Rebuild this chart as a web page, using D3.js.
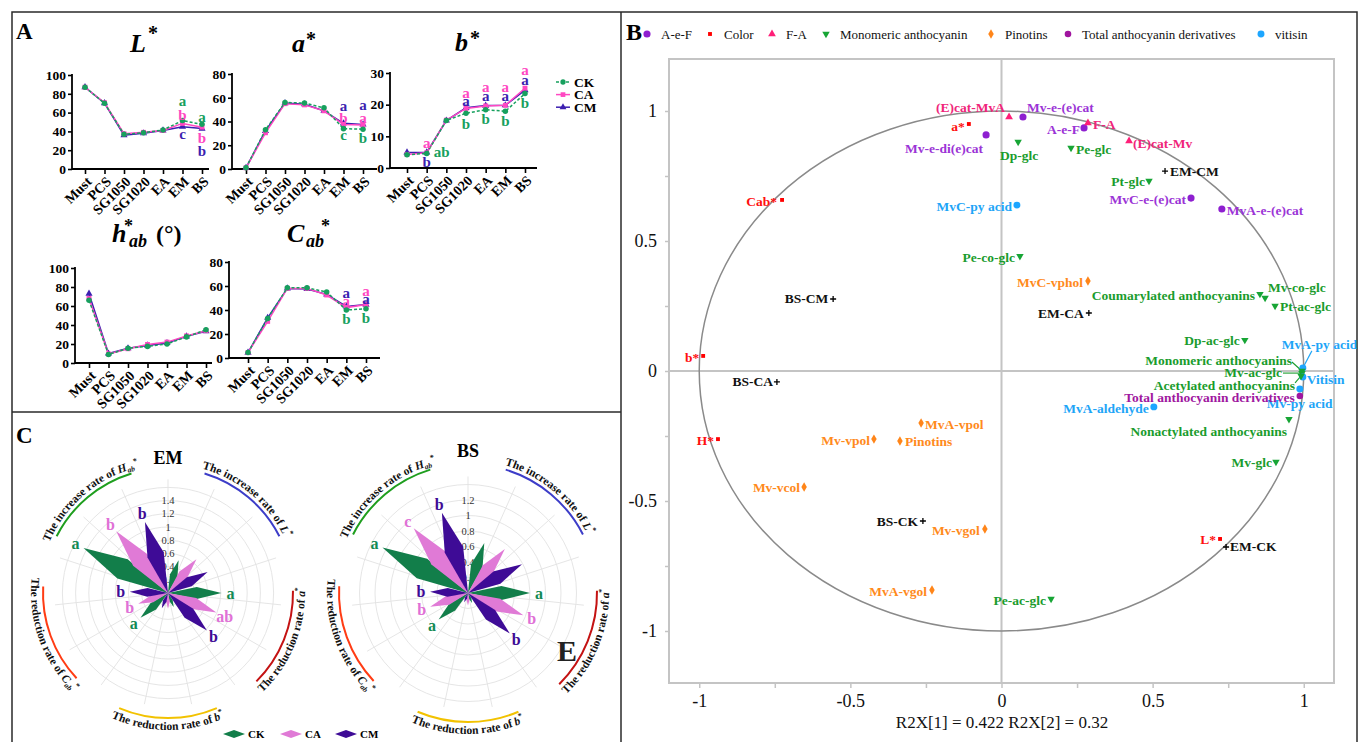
<!DOCTYPE html>
<html><head><meta charset="utf-8">
<script src="https://cdn.jsdelivr.net/npm/d3@7"></script>
<style>body{margin:0;background:#fff}svg{display:block}text{font-family:"Liberation Serif","Times New Roman",serif}</style>
</head><body>
<svg id="chart" width="1359" height="742"></svg>
<script>
// ---------------- DATA ----------------
const stages = ["Must","PCS","SG1050","SG1020","EA","EM","BS"];
const groupsA = ["CK","CA","CM"];
const L_CK = [87, 70, 37, 38.5, 41.5, 51.5, 47.5];
const L_CA = [87, 70.5, 37.5, 39, 41, 48.5, 44.5];
const L_CM = [87, 70, 36, 38, 41, 45, 43];
const a_CK = [1, 33, 56, 55.5, 51.5, 34, 33.5];
const a_CA = [1, 30.5, 55, 54, 49, 37.5, 37];
const a_CM = [1, 32, 55.5, 54.5, 49, 38.5, 37.5];
const b_CK = [4.2, 4.6, 15, 17.3, 18.4, 17.9, 23.5];
const b_CA = [4.3, 4.8, 15.1, 18.8, 19.6, 19.8, 25.2];
const b_CM = [4.9, 4.9, 15, 19, 19.7, 19.8, 24.6];
const h_CK = [66, 9, 15.5, 17.5, 20, 27.5, 35];
const h_CA = [68, 9.5, 15, 19.5, 22, 28.5, 34];
const h_CM = [73, 10, 15.5, 18.5, 21, 28, 33.5];
const C_CK = [4.5, 33, 58.5, 58.5, 55, 40, 41];
const C_CA = [4.5, 30.5, 58, 58, 52.5, 42, 44.5];
const C_CM = [4.5, 33.5, 58, 57.5, 53, 43, 44.5];
// significance letters: [stage, group, letter]
const lettersL = [["EM","CK","a"],["EM","CA","b"],["EM","CM","c"],["BS","CK","a"],["BS","CA","b"],["BS","CM","b"]];
const lettersA = [["EM","CM","a"],["EM","CA","b"],["EM","CK","c"],["BS","CM","a"],["BS","CA","a"],["BS","CK","b"]];
const lettersB = [["PCS","CA","a"],["PCS","CK","ab"],["PCS","CM","b"],
  ["SG1020","CA","a"],["SG1020","CM","a"],["SG1020","CK","b"],
  ["EA","CA","a"],["EA","CM","a"],["EA","CK","b"],
  ["EM","CA","a"],["EM","CM","a"],["EM","CK","b"],
  ["BS","CA","a"],["BS","CM","a"],["BS","CK","b"]];
const lettersC = [["EM","CM","a"],["EM","CA","a"],["EM","CK","b"],["BS","CA","a"],["BS","CM","a"],["BS","CK","b"]];

// Panel B (PCA loadings)
const bNames = ["(E)cat-MvA","Mv-e-(e)cat","a*","Mv-e-di(e)cat","Dp-glc",
  "A-e-F","F-A","Pe-glc","(E)cat-Mv","EM-CM",
  "Pt-glc","MvC-e-(e)cat","MvA-e-(e)cat","MvC-py acid","Cab*",
  "Pe-co-glc","MvC-vphol","Coumarylated anthocyanins","Mv-co-glc","Pt-ac-glc",
  "EM-CA","BS-CM","b*","BS-CA","Dp-ac-glc",
  "MvA-py acid","Monomeric anthocyanins","Mv-ac-glc","Vitisin","Acetylated anthocyanins",
  "Mv-py acid","Total anthocyanin derivatives","MvA-aldehyde","Nonactylated anthocyanins","Mv-glc",
  "H*","MvA-vpol","Mv-vpol","Pinotins","Mv-vcol",
  "BS-CK","Mv-vgol","MvA-vgol","Pe-ac-glc","L*",
  "EM-CK"];
const bX = [0.025,0.071,-0.108,-0.051,0.055,
  0.273,0.286,0.230,0.422,0.541,
  0.488,0.627,0.729,0.051,-0.726,
  0.061,0.286,0.855,0.872,0.905,
  0.289,-0.557,-0.987,-0.743,0.805,
  0.997,0.994,0.994,0.997,0.991,
  0.987,0.987,0.504,0.951,0.908,
  -0.938,-0.266,-0.422,-0.336,-0.653,
  -0.260,-0.055,-0.230,0.164,0.723,
  0.743];
const bY = [0.977,0.977,0.950,0.908,0.881,
  0.935,0.954,0.858,0.885,0.769,
  0.731,0.665,0.623,0.638,0.658,
  0.442,0.346,0.296,0.281,0.250,
  0.223,0.277,0.058,-0.042,0.119,
  0.012,0.000,-0.008,-0.023,-0.019,
  -0.069,-0.096,-0.138,-0.185,-0.350,
  -0.262,-0.200,-0.262,-0.269,-0.446,
  -0.577,-0.608,-0.842,-0.877,-0.646,
  -0.677];
const bGroup = ["FA","AeF","Color","AeF","Mono",
  "AeF","FA","Mono","FA","Sample",
  "Mono","AeF","AeF","Vit","Color",
  "Mono","Pino","Mono","Mono","Mono",
  "Sample","Sample","Color","Sample","Mono",
  "Vit","Mono","Mono","Vit","Mono",
  "Vit","Total","Vit","Mono","Mono",
  "Color","Pino","Pino","Pino","Pino",
  "Sample","Pino","Pino","Mono","Color",
  "Sample"];
const legendKeys = ["AeF","Color","FA","Mono","Pino","Total","Vit"];
const legendNames = ["A-e-F","Color","F-A","Monomeric anthocyanin","Pinotins","Total anthocyanin derivatives","vitisin"];
const xTicksB = [-1,-0.75,-0.5,-0.25,0,0.25,0.5,0.75,1];
const yTicksB = [-1,-0.75,-0.5,-0.25,0,0.25,0.5,0.75,1];
const axisTitleB = "R2X[1] = 0.422 R2X[2] = 0.32";

// Panel C (rose charts)
const rosePrefix = ["The increase rate of ","The increase rate of ","The reduction rate of ","The reduction rate of ","The reduction rate of "];
const roseSymbol = ["H","L","a","b","C"];
const roseSub = ["ab","","","","ab"];
const EM_CK = [1.45, 0.52, 0.81, 0.23, 0.56];
const EM_CA = [1.22, 0.67, 0.79, 0.24, 0.48];
const EM_CM = [1.13, 0.68, 0.82, 0.25, 0.58];
const BS_CK = [1.25, 0.68, 0.80, 0.14, 0.51];
const BS_CA = [1.09, 0.74, 0.77, 0.16, 0.52];
const BS_CM = [1.09, 0.79, 0.75, 0.13, 0.49];
const EM_letters = [["a","","a","","a"],["b","","ab","","b"],["b","","b","","b"]];
const BS_letters = [["a","","a","","a"],["c","","b","","b"],["b","","b","","b"]];
const EM_ticks = [0.2,0.4,0.6,0.8,1,1.2,1.4];
const BS_ticks = [0.2,0.4,0.6,0.8,1,1.2];

// ---------------- DRAWING ----------------
const svg = d3.select("#chart");
const SERIF = '"Liberation Serif","Times New Roman",serif';
const colA = {CK:"#17a05e", CA:"#ff48c2", CM:"#3c1fb0"};

// frames
svg.append("rect").attr("x",12).attr("y",12).attr("width",1345).attr("height",745)
  .attr("fill","none").attr("stroke","#2a2a2a").attr("stroke-width",1.5);
svg.append("line").attr("x1",621).attr("x2",621).attr("y1",12).attr("y2",742).attr("stroke","#2a2a2a").attr("stroke-width",1.5);
svg.append("line").attr("x1",12).attr("x2",621).attr("y1",412).attr("y2",412).attr("stroke","#2a2a2a").attr("stroke-width",1.5);

svg.append("text").attr("x",16).attr("y",39).attr("font-size",23).attr("font-weight","bold").text("A");
svg.append("text").attr("x",16).attr("y",443).attr("font-size",23).attr("font-weight","bold").text("C");

// ---------- Panel A ----------
function lineChart(c){
  const g = svg.append("g");
  const x = d3.scalePoint().domain(stages).range([c.x0, c.x1]);
  const y = d3.scaleLinear().domain([0, c.max]).range([c.yb, c.yt]);
  const ya = g.append("g").attr("transform",`translate(${c.ax},0)`)
    .call(d3.axisLeft(y).tickValues(d3.range(0, c.max+1e-9, c.step)).tickSize(4).tickPadding(2).tickFormat(d3.format("d")));
  ya.select(".domain").remove();
  ya.selectAll("line").attr("stroke","#000").attr("stroke-width",1.6);
  ya.selectAll("text").attr("font-family",SERIF).attr("font-weight","bold").attr("font-size",13.5).attr("fill","#000");
  g.append("line").attr("x1",c.ax).attr("x2",c.ax).attr("y1",c.yt-1).attr("y2",c.yb+0.8).attr("stroke","#000").attr("stroke-width",1.8);
  const xa = g.append("g").attr("transform",`translate(0,${c.yb})`).call(d3.axisBottom(x).tickSize(5).tickFormat(""));
  xa.select(".domain").remove();
  xa.selectAll("line").attr("stroke","#000").attr("stroke-width",1.6);
  g.append("line").attr("x1",c.ax).attr("x2",c.axEnd).attr("y1",c.yb).attr("y2",c.yb).attr("stroke","#000").attr("stroke-width",1.8);
  g.selectAll(null).data(stages).join("text")
    .attr("transform", d=>`translate(${x(d)+4},${c.yb+10}) rotate(-45)`)
    .attr("text-anchor","end").attr("dy","0.35em")
    .attr("font-size",14).attr("font-weight","bold").text(d=>d);
  const series = [{k:"CM",v:c.data[2]},{k:"CA",v:c.data[1]},{k:"CK",v:c.data[0]}];
  const line = d3.line().x((d,i)=>x(stages[i])).y(d=>y(d));
  series.forEach(s=>{
    g.append("path").attr("d",line(s.v)).attr("fill","none").attr("stroke",colA[s.k]).attr("stroke-width",1.5)
      .attr("stroke-dasharray", s.k==="CK" ? "3,2" : null);
    const sym = s.k==="CK" ? d3.symbol(d3.symbolCircle, 24) : s.k==="CA" ? d3.symbol(d3.symbolSquare, 24) : d3.symbol(d3.symbolTriangle, 22);
    g.selectAll(null).data(s.v).join("path").attr("d",sym())
      .attr("transform",(d,i)=>`translate(${x(stages[i])},${y(d)})`).attr("fill",colA[s.k]);
  });
  const vals = {CK:c.data[0], CA:c.data[1], CM:c.data[2]};
  c.letters.forEach((L,i)=>{
    const si = stages.indexOf(L[0]);
    g.append("text").attr("x", x(L[0]) + (c.ldx ? c.ldx[i] : 0)).attr("y", y(vals[L[1]][si]) + c.ldy[i])
      .attr("dy","0.35em").attr("text-anchor", c.ldx && c.ldx[i] ? "start":"middle")
      .attr("font-size",15).attr("font-weight","bold").attr("fill",colA[L[1]]).text(L[2]);
  });
}
lineChart({ax:72, axEnd:209, x0:85, x1:202, yb:169, yt:75, max:100, step:20, data:[L_CK,L_CA,L_CM],
  letters:lettersL, ldy:[-20,-9,7,-8,11,22]});
lineChart({ax:232, axEnd:377, x0:246, x1:363, yb:169, yt:74, max:80, step:20, data:[a_CK,a_CA,a_CM],
  letters:lettersA, ldy:[-18,-6.5,6,-19.5,-7,9]});
lineChart({ax:390, axEnd:537, x0:407, x1:525, yb:168, yt:73, max:30, step:10, data:[b_CK,b_CA,b_CM],
  letters:lettersB, ldy:[-10,-1.5,9,-16,-7,11,-19.5,-10.3,9.3,-19,-10,9,-18,-10,8.7],
  ldx:[0,7,0,0,0,0,0,0,0,0,0,0,0,0,0]});
lineChart({ax:75, axEnd:212, x0:89, x1:206, yb:363, yt:268, max:100, step:20, data:[h_CK,h_CA,h_CM],
  letters:[], ldy:[]});
lineChart({ax:229, axEnd:380, x0:248, x1:366, yb:358, yt:262, max:80, step:20, data:[C_CK,C_CA,C_CM],
  letters:lettersC, ldy:[-13.7,-6.9,8.3,-13.9,-6.3,8.5]});

// titles
function tt(x,y,txt,size,italic){return svg.append("text").attr("x",x).attr("y",y).attr("font-size",size).attr("font-weight","bold").attr("font-style",italic?"italic":"normal").text(txt);}
tt(130,52,"L",26,true); tt(148,40,"*",20,false);
tt(292,52,"a",26,true); tt(306,46,"*",20,false);
tt(455,51,"b",26,true); tt(470,45,"*",20,false);
tt(112,242,"h",26,true); tt(124,232,"*",18,false); tt(129,247,"ab",18,true); tt(156,242,"(°)",24,false);
tt(287,242,"C",26,true); tt(306,247,"ab",18,true); tt(321,232,"*",18,false);

// legend A
["CK","CA","CM"].forEach((k,i)=>{
  const yy = 82 + i*12.6;
  svg.append("line").attr("x1",556).attr("x2",570).attr("y1",yy).attr("y2",yy).attr("stroke",colA[k]).attr("stroke-width",1.5).attr("stroke-dasharray",k==="CK"?"3,2":null);
  const sym = k==="CK" ? d3.symbol(d3.symbolCircle, 22) : k==="CA" ? d3.symbol(d3.symbolSquare, 22) : d3.symbol(d3.symbolTriangle, 20);
  svg.append("path").attr("d",sym()).attr("transform",`translate(563,${yy})`).attr("fill",colA[k]);
  svg.append("text").attr("x",574).attr("y",yy).attr("dy","0.35em").attr("font-size",13.5).attr("font-weight","bold").text(k);
});

// ---------- Panel B ----------
const gB = svg.append("g");
const xB = d3.scaleLinear().domain([-1.1,1.1]).range([669,1334]);
const yB = d3.scaleLinear().domain([-1.2,1.2]).range([683,59]);
const grey = "#c4c4c4";
gB.append("line").attr("x1",xB(0)).attr("x2",xB(0)).attr("y1",yB(1.2)).attr("y2",yB(-1.2)).attr("stroke",grey).attr("stroke-width",2);
gB.append("line").attr("x1",xB(-1.1)).attr("x2",xB(1.1)).attr("y1",yB(0)).attr("y2",yB(0)).attr("stroke",grey).attr("stroke-width",2);
gB.append("ellipse").attr("cx",xB(0)).attr("cy",yB(0)).attr("rx",xB(1)-xB(0)).attr("ry",yB(0)-yB(1))
  .attr("fill","none").attr("stroke","#8a8a8a").attr("stroke-width",1.5);
gB.append("rect").attr("x",669).attr("y",59).attr("width",665).attr("height",624).attr("fill","none").attr("stroke",grey).attr("stroke-width",2);
const fmtB = d => (d%0.5===0) ? String(d) : "";
const axb = gB.append("g").attr("transform","translate(0,683)").call(d3.axisBottom(xB).tickValues(xTicksB).tickSize(5).tickPadding(6).tickFormat(fmtB));
axb.select(".domain").remove();
axb.selectAll("line").attr("stroke",grey).attr("stroke-width",1.5);
axb.selectAll("text").attr("font-family",SERIF).attr("font-size",18).attr("fill","#111");
const ayb = gB.append("g").attr("transform","translate(669,0)").call(d3.axisLeft(yB).tickValues(yTicksB).tickSize(4).tickPadding(8).tickFormat(fmtB));
ayb.select(".domain").remove();
ayb.selectAll("line").attr("stroke",grey).attr("stroke-width",1.5);
ayb.selectAll("text").attr("font-family",SERIF).attr("font-size",18).attr("fill","#111");
gB.append("text").attr("x",1002).attr("y",728).attr("text-anchor","middle").attr("font-size",17).attr("fill","#111").text(axisTitleB);

const gStyle = {
  AeF:{fill:"#8e1fd0", lab:"#9b34d6", type:d3.symbolCircle, size:40, rot:0},
  Color:{fill:"#ff0000", lab:"#ff1010", type:d3.symbolSquare, size:15, rot:0},
  FA:{fill:"#ff1f78", lab:"#f0257a", type:d3.symbolTriangle, size:26, rot:0},
  Mono:{fill:"#17a535", lab:"#1a9c2d", type:d3.symbolTriangle, size:24, rot:180},
  Pino:{fill:"#ff8519", lab:"#ff8a1c", type:d3.symbolDiamond, size:26, rot:0},
  Total:{fill:"#a0159f", lab:"#a0189f", type:d3.symbolCircle, size:34, rot:0},
  Vit:{fill:"#1da6ff", lab:"#1ea5f7", type:d3.symbolCircle, size:38, rot:0},
  Sample:{fill:"#000", lab:"#111", type:null, size:0, rot:0}
};
function markB(g, key, px, py){
  const s = gStyle[key];
  if(key==="Sample"){
    g.append("path").attr("d",`M${px-3},${py}H${px+3}M${px},${py-3}V${py+3}`).attr("stroke","#000").attr("stroke-width",1.3);
  } else {
    g.append("path").attr("d",d3.symbol(s.type,s.size)()).attr("transform",`translate(${px},${py}) rotate(${s.rot})`).attr("fill",s.fill);
  }
}
// label layout [anchor, dx, dy, leaderDx, leaderDy]
const bLab = {
"(E)cat-MvA":["end",-4,-10],"Mv-e-(e)cat":["start",4,-10],"a*":["end",-4,2],"Mv-e-di(e)cat":["end",-3,13],
"Dp-glc":["middle",1,13],"A-e-F":["end",-4,1],"F-A":["start",5,1],"Pe-glc":["start",5,1],"(E)cat-Mv":["start",4,2],
"EM-CM":["start",5,0],"Pt-glc":["end",-4,0],"MvC-e-(e)cat":["end",-5,1],"MvA-e-(e)cat":["start",5,1],
"MvC-py acid":["end",-5,1],"Cab*":["end",-5,1],"Pe-co-glc":["end",-5,1],"MvC-vphol":["end",-5,1],
"Coumarylated anthocyanins":["end",-5,1],"Mv-co-glc":["start",3,-11],"Pt-ac-glc":["start",5,0],"EM-CA":["end",-5,0],
"BS-CM":["end",-5,-1],"b*":["end",-4,1],"BS-CA":["end",-4,-1],"Dp-ac-glc":["end",-5,0],
"MvA-py acid":["start",-21,-24,9,-17],"Monomeric anthocyanins":["end",-10,-11,-10,-9],"Mv-ac-glc":["end",-20,-1,-19,0],
"Vitisin":["start",4,2],"Acetylated anthocyanins":["end",-6,9,-6,7],"Mv-py acid":["start",-33,14],
"Total anthocyanin derivatives":["end",-5,1],"MvA-aldehyde":["end",-5,1],"Nonactylated anthocyanins":["end",-2,12],
"Mv-glc":["end",-4,0],"H*":["end",-4,1],"MvA-vpol":["start",4,1],"Mv-vpol":["end",-4,1],"Pinotins":["start",5,0],
"Mv-vcol":["end",-4,0],"BS-CK":["end",-5,0],"Mv-vgol":["end",-5,1],"MvA-vgol":["end",-5,1],"Pe-ac-glc":["end",-5,1],
"L*":["end",-4,0],"EM-CK":["start",4,-1]
};
const gMarks = gB.append("g"), gLabs = gB.append("g");
bNames.forEach((n,i)=>{
  const px = xB(bX[i]), py = yB(bY[i]);
  const lay = bLab[n] || ["start",5,0];
  const st = gStyle[bGroup[i]];
  if(lay.length>3){
    gMarks.append("line").attr("x1",px).attr("y1",py).attr("x2",px+lay[3]).attr("y2",py+lay[4])
      .attr("stroke",st.lab).attr("stroke-width",1.1);
  }
  gLabs.append("text").attr("x",px+lay[1]).attr("y",py+lay[2]).attr("dy","0.35em").attr("text-anchor",lay[0])
    .attr("font-size",13.5).attr("font-weight","bold").attr("fill",st.lab).text(n);
});
bNames.forEach((n,i)=>markB(gMarks, bGroup[i], xB(bX[i]), yB(bY[i])));

// legend B
svg.append("text").attr("x",626).attr("y",40).attr("font-size",24).attr("font-weight","bold").text("B");
const legX = [647,710,772,826,991,1068,1261];
legendKeys.forEach((k,i)=>{
  markB(svg, k, legX[i], 34);
  svg.append("text").attr("x",legX[i]+14).attr("y",34).attr("dy","0.35em").attr("font-size",13).attr("fill","#111").text(legendNames[i]);
});

// ---------- Panel C ----------
const defs = svg.append("defs");
const P = (cx,cy,r,a)=>[cx + r*Math.sin(a*Math.PI/180), cy - r*Math.cos(a*Math.PI/180)];
function arcD(cx,cy,r,a0,a1){
  const p0=P(cx,cy,r,a0), p1=P(cx,cy,r,a1);
  return `M${p0[0]},${p0[1]}A${r},${r} 0 ${Math.abs(a1-a0)>180?1:0} ${a1>a0?1:0} ${p1[0]},${p1[1]}`;
}
const SECT = [320, 40, 112, 180, 250];
const ARCCOL = ["#1e9e1e","#3d3dc8","#c41212","#f2c200","#ff3c14"];
const PETAL = {CK:"#127e4a", CA:"#e07ad6", CM:"#3e0b96"};
const LETC = {CK:"#138a55", CA:"#e070d6", CM:"#3e0b96"};
function rose(id, cx, cy, k, ringMax, ticks, title, titleY, vals, letters, arcR){
  const g = svg.append("g");
  const rs = d3.scaleLinear().domain([0,1]).range([0,k]);
  const rings = d3.range(1, Math.round(ringMax/0.2)+1).map(i=>i*0.2);
  g.selectAll(null).data(rings).join("circle").attr("cx",cx).attr("cy",cy).attr("r",d=>rs(d))
    .attr("fill","none").attr("stroke","#e2e2e2").attr("stroke-width",0.9);
  d3.range(0,360,24).forEach(a=>{
    const p = P(cx,cy,rs(ringMax)+8,a);
    g.append("line").attr("x1",cx).attr("y1",cy).attr("x2",p[0]).attr("y2",p[1]).attr("stroke","#e2e2e2").attr("stroke-width",0.9);
  });
  g.selectAll(null).data(ticks).join("text").attr("x",cx).attr("y",d=>cy-rs(d)).attr("dy","0.35em")
    .attr("text-anchor","middle").attr("font-size",10.5).attr("fill","#333").text(d=>String(d));
  // arcs and labels
  SECT.forEach((c,ai)=>{
    g.append("path").attr("d",arcD(cx,cy,arcR,c-23,c+23)).attr("fill","none").attr("stroke",ARCCOL[ai]).attr("stroke-width",2);
    const cw = (ai<2);
    const pid = id+"_arc"+ai;
    defs.append("path").attr("id",pid).attr("d", cw ? arcD(cx,cy,arcR+4,c-40,c+40) : arcD(cx,cy,arcR+12,c+40,c-40));
    const t = g.append("text").attr("font-size",11.5).attr("font-weight","bold").attr("fill","#111");
    const tp = t.append("textPath").attr("href","#"+pid).attr("startOffset","50%").attr("text-anchor","middle");
    tp.append("tspan").text(rosePrefix[ai]);
    tp.append("tspan").attr("font-style","italic").text(roseSymbol[ai]);
    if(roseSub[ai]){
      tp.append("tspan").attr("font-size",7.5).attr("font-style","italic").attr("dy",2.5).text(roseSub[ai]);
      tp.append("tspan").attr("font-size",8).attr("dy",-7).text("*");
    } else {
      tp.append("tspan").attr("font-size",8).attr("dy",-5).text("*");
    }
  });
  // petals
  ["CK","CA","CM"].forEach((gk,gi)=>{
    vals[gi].forEach((v,ai)=>{
      const ang = SECT[ai] + (gi-1)*22;
      const r = rs(v);
      const pts = [[cx,cy], P(cx,cy,r*0.55,ang-12), P(cx,cy,r,ang), P(cx,cy,r*0.55,ang+12)];
      g.append("path").attr("d","M"+pts.map(p=>p.join(",")).join("L")+"Z").attr("fill",PETAL[gk]);
      const lt = letters[gi][ai];
      if(lt){
        const lp = P(cx,cy,r+9,ang);
        g.append("text").attr("x",lp[0]).attr("y",lp[1]).attr("dy","0.35em").attr("text-anchor","middle")
          .attr("font-size",16).attr("font-weight","bold").attr("fill",LETC[gk]).text(lt);
      }
    });
  });
  g.append("text").attr("x",cx).attr("y",titleY).attr("text-anchor","middle").attr("font-size",18).attr("font-weight","bold").text(title);
}
rose("em",168,593,66,1.6,EM_ticks,"EM",464,[EM_CK,EM_CA,EM_CM],EM_letters,125);
rose("bs",468,593,77.5,1.4,BS_ticks,"BS",457,[BS_CK,BS_CA,BS_CM],BS_letters,129);
svg.append("text").attr("x",557).attr("y",661).attr("font-size",30).attr("font-weight","bold").attr("fill","#222").text("E");

// legend C
[["CK",223],["CA",280],["CM",335]].forEach(([k,x0])=>{
  svg.append("path").attr("d",`M${x0},734L${x0+11},730L${x0+22},734L${x0+11},738Z`).attr("fill",PETAL[k]);
  svg.append("text").attr("x",x0+25).attr("y",734).attr("dy","0.35em").attr("font-size",11).attr("font-weight","bold").text(k);
});
</script>
</body></html>
